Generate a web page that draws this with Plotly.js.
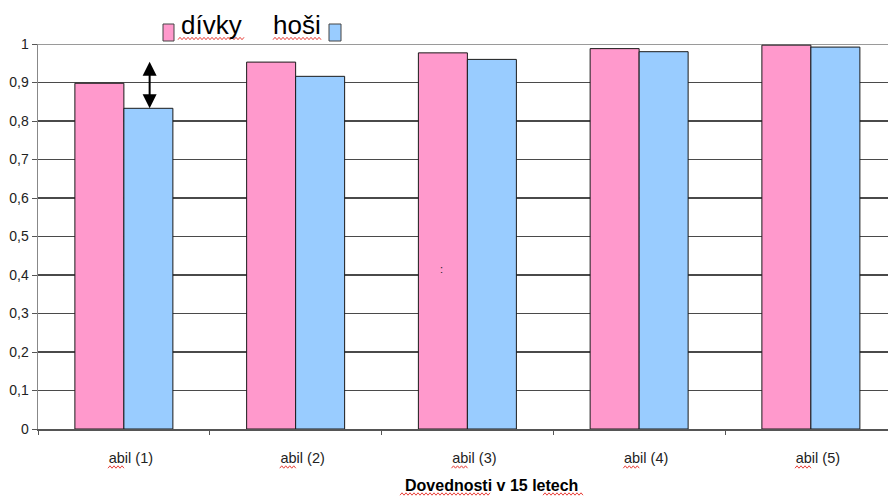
<!DOCTYPE html>
<html>
<head>
<meta charset="utf-8">
<script src="https://cdn.plot.ly/plotly-3.0.1.min.js"></script>
<style>html,body{margin:0;padding:0;background:#fff;}#chart{width:888px;height:496px;}</style>
</head>
<body>
<div id="chart"></div>
<script>
// ---- data ----
const categories = ['abil (1)', 'abil (2)', 'abil (3)', 'abil (4)', 'abil (5)'];
const divky = [0.898, 0.953, 0.977, 0.988, 0.997];
const hosi  = [0.833, 0.916, 0.960, 0.980, 0.992];
const seriesNames = ['dívky', 'hoši'];
const seriesColors = ['#FF99CC', '#99CCFF'];
const yTicks = [0, 0.1, 0.2, 0.3, 0.4, 0.5, 0.6, 0.7, 0.8, 0.9, 1];
const xTitle = 'Dovednosti v 15 letech';

// ---- layout helpers (pixel -> paper) ----
const ML = 38, MT = 44, MB = 67, PW = 888 - ML, PH = 496 - MT - MB;
const px = v => (v - ML) / PW;
const py = v => (496 - MB - v) / PH;

function squiggle(x0, x1, yc) {
  let d = 'M ' + px(x0) + ' ' + py(yc + 1.2);
  let up = true;
  for (let x = x0 + 2; x <= x1; x += 2) {
    d += ' L ' + px(x) + ' ' + py(yc + (up ? -1.2 : 1.2));
    up = !up;
  }
  return {type: 'path', xref: 'paper', yref: 'paper', path: d,
          line: {color: '#e8403a', width: 1}, layer: 'above'};
}

const traces = [
  {type: 'bar', x: categories, y: divky, name: seriesNames[0],
   marker: {color: seriesColors[0], line: {color: '#1a1a1a', width: 1}}},
  {type: 'bar', x: categories, y: hosi, name: seriesNames[1],
   marker: {color: seriesColors[1], line: {color: '#1a1a1a', width: 1}}}
];

const shapes = [
  {type: 'line', xref: 'paper', yref: 'y', x0: 0, x1: 1, y0: 1, y1: 1,
   line: {color: '#9a9a9a', width: 2}, layer: 'between'},
  {type: 'rect', xref: 'paper', yref: 'paper', x0: px(163), x1: px(174), y0: py(41), y1: py(24),
   fillcolor: seriesColors[0], line: {color: '#444', width: 1}},
  {type: 'rect', xref: 'paper', yref: 'paper', x0: px(329), x1: px(341), y0: py(41), y1: py(24),
   fillcolor: seriesColors[1], line: {color: '#444', width: 1}},
  squiggle(178, 245, 38.5),
  squiggle(273, 322, 38.5),
  squiggle(400, 490, 494),
  squiggle(543, 583, 494)
];
categories.forEach((c, i) => {
  const cx = 124 + i * 171.75 + 7;
  shapes.push(squiggle(cx - 23, cx - 7, 467));
});

const annotations = [
  {xref: 'paper', yref: 'paper', x: px(179), y: py(25), xanchor: 'left', yanchor: 'middle',
   text: seriesNames[0], showarrow: false,
   font: {family: 'Liberation Sans, Arial, sans-serif', size: 26, color: '#000'}},
  {xref: 'paper', yref: 'paper', x: px(271), y: py(25), xanchor: 'left', yanchor: 'middle',
   text: seriesNames[1], showarrow: false,
   font: {family: 'Liberation Sans, Arial, sans-serif', size: 26, color: '#000'}},
  {xref: 'paper', yref: 'paper', x: px(491), y: py(485), xanchor: 'center', yanchor: 'middle',
   text: '<b>' + xTitle + '</b>', showarrow: false,
   font: {family: 'Liberation Sans Narrow, Liberation Sans, Arial, sans-serif', size: 16, color: '#000'}},
  {xref: 'x', yref: 'y', axref: 'x', ayref: 'y', x: 0.15, y: hosi[0], ax: 0.15, ay: 0.958,
   text: '', showarrow: true, arrowside: 'end+start', arrowhead: 2, arrowsize: 1.4,
   arrowwidth: 2, arrowcolor: '#000'},
  {xref: 'paper', yref: 'paper', x: px(441), y: py(269), text: ':', showarrow: false,
   font: {family: 'Liberation Sans, Arial, sans-serif', size: 11, color: '#222'}}
];

const layout = {
  width: 888, height: 496,
  margin: {l: ML, r: 0, t: MT, b: MB, pad: 0},
  paper_bgcolor: '#fff', plot_bgcolor: '#fff',
  separators: ', ',
  showlegend: false,
  barmode: 'group', bargap: 0.4294, bargroupgap: 0,
  font: {family: 'Liberation Sans, Arial, sans-serif', color: '#222'},
  xaxis: {
    type: 'category', range: [-0.5, 4.449],
    showgrid: false, zeroline: false,
    showline: true, linecolor: '#555', linewidth: 1.5,
    ticks: 'outside', tickson: 'boundaries', ticklen: 4, tickcolor: '#555', tickwidth: 1,
    tickfont: {size: 14.5, color: '#222'}, ticklabelshift: 7, ticklabelstandoff: 15
  },
  yaxis: {
    range: [0, 1], tickvals: yTicks,
    showgrid: true, gridcolor: '#4a4a4a', gridwidth: 1.3,
    zeroline: false,
    showline: true, linecolor: '#888', linewidth: 1.5,
    ticks: 'outside', ticklen: 5, tickcolor: '#555', tickwidth: 1,
    tickfont: {size: 14, color: '#222'}
  },
  shapes: shapes,
  annotations: annotations
};

Plotly.newPlot('chart', traces, layout, {displayModeBar: false, staticPlot: true});
</script>
</body>
</html>
